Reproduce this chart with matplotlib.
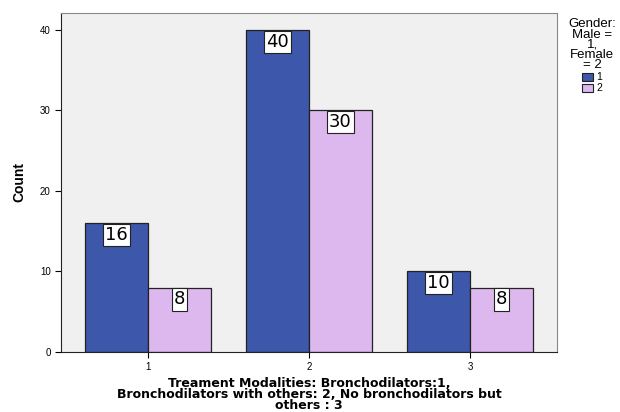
import numpy as np
import matplotlib
matplotlib.use('Agg')
import matplotlib.pyplot as plt
from matplotlib.patches import Patch

plt.rcParams['font.family'] = ['Liberation Sans', 'DejaVu Sans']

groups = [1, 2, 3]
male = [16, 40, 10]
female = [8, 30, 8]
gender_labels = ['1', '2']

blue = '#3d57aa'
pink = '#dcb8ee'

fig = plt.figure(figsize=(6.2, 4.12), dpi=100)
ax = fig.add_axes([61 / 620, 1 - 352 / 412, (557 - 61) / 620, (352 - 13) / 412])
ax.set_facecolor('#f0f0f0')

x = np.array(groups, dtype=float)
w = 0.39
b1 = ax.bar(x - w / 2, male, width=w, color=blue, edgecolor='#222222', linewidth=0.9)
b2 = ax.bar(x + w / 2, female, width=w, color=pink, edgecolor='#222222', linewidth=0.9)

for bars in (b1, b2):
    for rect in bars:
        h = rect.get_height()
        ax.annotate(f'{int(h)}', (rect.get_x() + rect.get_width() / 2, h),
                    xytext=(0, -2), textcoords='offset points',
                    ha='center', va='top', fontsize=13, family='DejaVu Sans',
                    bbox=dict(boxstyle='square,pad=0.12', fc='white', ec='#222222', lw=0.8))

ax.set_xlim(0.46, 3.54)
ax.set_ylim(0, 42.1)
ax.set_xticks(groups)
ax.set_xticklabels([str(g) for g in groups], fontsize=7)
ax.set_yticks([0, 10, 20, 30, 40])
ax.tick_params(axis='y', labelsize=7, length=4, width=0.8)
ax.tick_params(axis='x', length=4, width=0.8)
for side in ['top', 'right']:
    ax.spines[side].set_color('#888888')
for side in ['left', 'bottom']:
    ax.spines[side].set_color('#222222')

ax.set_ylabel('Count', fontsize=10, fontweight='bold', labelpad=10)
ax.set_xlabel('Treament Modalities: Bronchodilators:1,\nBronchodilators with others: 2, No bronchodilators but\nothers : 3',
              fontsize=9, fontweight='bold', family='DejaVu Sans', linespacing=0.82, labelpad=3)

handles = [Patch(facecolor=blue, edgecolor='#222222', lw=0.8),
           Patch(facecolor=pink, edgecolor='#222222', lw=0.8)]
leg = fig.legend(handles, gender_labels, title='Gender:\nMale =\n1,\nFemale\n= 2',
                 loc='upper left', bbox_to_anchor=(560 / 620, 1 - 10 / 412),
                 frameon=False, fontsize=7.5, title_fontsize=9.5,
                 handlelength=1.1, handleheight=0.8, handletextpad=0.3,
                 labelspacing=0.1, borderpad=0.3)
leg.get_title().set_multialignment('center')
leg.get_title().set_linespacing(0.8)

fig.savefig('out.png', dpi=100)
